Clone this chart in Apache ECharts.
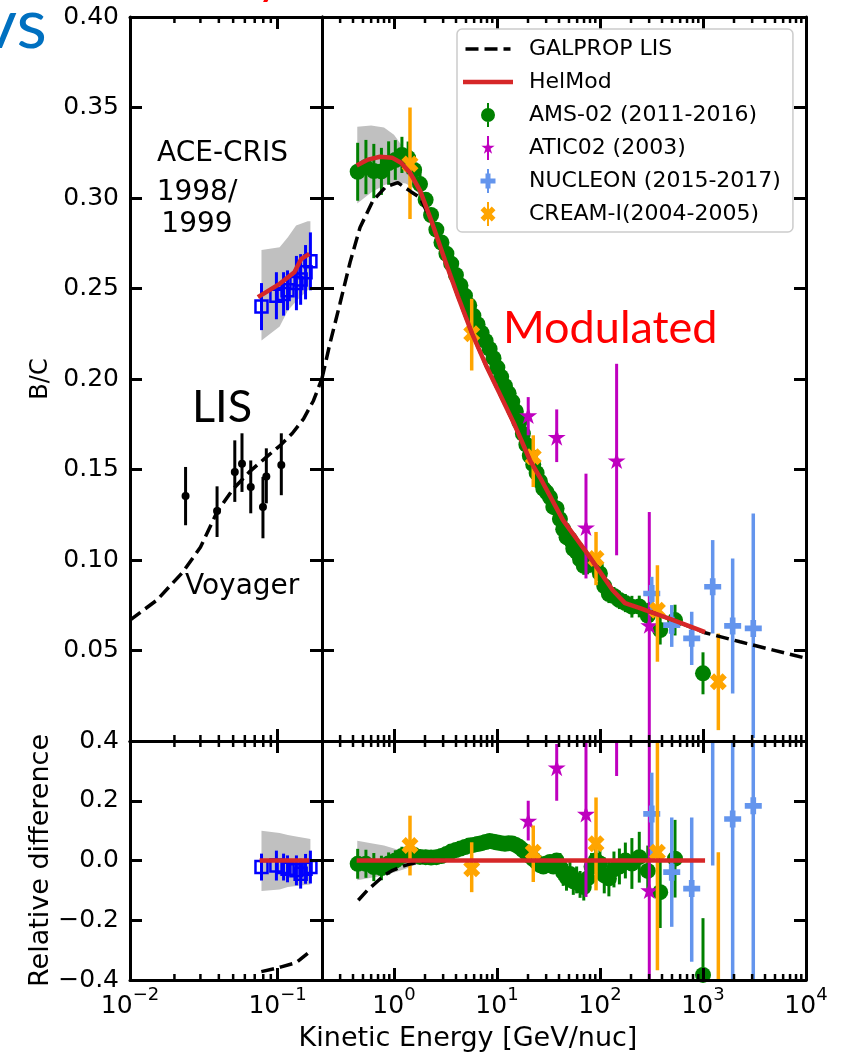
<!DOCTYPE html>
<html>
<head>
<meta charset="utf-8">
<script src="https://cdn.jsdelivr.net/npm/echarts@6.0.0/dist/echarts.min.js"></script>
<style>
  html, body { margin: 0; padding: 0; background: #ffffff; }
  #chart { width: 842px; height: 1057px; }
</style>
</head>
<body>
<div id="chart"></div>
<script>
// ---------------- B/C data (kinetic energy in GeV/nuc) ----------------

// Voyager (LIS, left panel)
const voyagerE  = [0.0238, 0.0389, 0.0513, 0.0574, 0.0658, 0.0796, 0.0839, 0.106];
const voyagerBC = [0.1354, 0.1271, 0.1486, 0.1532, 0.1403, 0.1293, 0.1462, 0.1525];
const voyagerLo = [0.1192, 0.1127, 0.1321, 0.1376, 0.1258, 0.1120, 0.1313, 0.1358];
const voyagerHi = [0.1514, 0.1407, 0.1661, 0.1700, 0.1550, 0.1459, 0.1617, 0.1700];

// ACE-CRIS 1998/1999
const aceE      = [0.0778, 0.0982, 0.1098, 0.1168, 0.1342, 0.1433, 0.1547, 0.1669];
const aceBC     = [0.240, 0.246, 0.247, 0.249, 0.253, 0.255, 0.259, 0.265];
const aceErr    = [0.013, 0.013, 0.012, 0.011, 0.015, 0.014, 0.015, 0.016];
const aceRel    = [-0.022, -0.017, -0.022, -0.028, -0.033, -0.044, -0.028, -0.022];
const aceRelErr = [0.045, 0.050, 0.045, 0.045, 0.050, 0.050, 0.050, 0.055];

// HelMod uncertainty band, ACE-CRIS period
const aceBandE     = [0.0778, 0.1033, 0.1174, 0.1335, 0.1600, 0.1669];
const aceBandHi    = [0.2713, 0.2728, 0.2783, 0.2848, 0.2871, 0.2871];
const aceBandLo    = [0.2213, 0.2290, 0.2379, 0.2430, 0.2490, 0.2500];
const aceBandRelHi = [0.100, 0.092, 0.085, 0.080, 0.074, 0.072];
const aceBandRelLo = [-0.102, -0.097, -0.089, -0.085, -0.081, -0.080];

// GALPROP LIS
const lisLeftE   = [0.01, 0.0152, 0.0228, 0.030, 0.0389, 0.0497, 0.065, 0.0843, 0.105, 0.126, 0.15, 0.175, 0.2];
const lisLeftBC  = [0.0668, 0.0778, 0.0933, 0.107, 0.1265, 0.139, 0.149, 0.157, 0.1635, 0.170, 0.178, 0.188, 0.2003];
const lisRightE  = [0.2, 0.239, 0.299, 0.374, 0.468, 0.625, 0.836, 1.09, 1.46, 1.79, 2.34, 3.13, 4.18, 5.72, 7.83,
                    10.7, 14.9, 20.9, 26.1, 43.7, 74.8, 133, 175, 244, 515, 1047, 2290, 4818, 10000];
const lisRightBC = [0.2003, 0.2197, 0.2417, 0.2643, 0.2837, 0.2986, 0.3063, 0.3085, 0.3035, 0.3002, 0.2864, 0.2655,
                    0.2456, 0.2252, 0.2075, 0.1915, 0.1744, 0.1551, 0.1457, 0.1220, 0.1038, 0.0833, 0.0762, 0.0734,
                    0.0668, 0.0598, 0.0548, 0.0502, 0.0457];
const lisRelLeftE  = [0.0776, 0.0977, 0.106, 0.1335, 0.141, 0.160];
const lisRelLeft   = [-0.372, -0.361, -0.356, -0.342, -0.333, -0.311];
const lisRelRightE = [0.45, 0.55, 0.65, 0.8, 0.97, 1.2, 1.39, 1.7, 2.0, 2.5, 3.13];
const lisRelRight  = [-0.133, -0.100, -0.078, -0.050, -0.033, -0.020, -0.013, -0.006, -0.002, 0, 0];

// HelMod modulated spectrum
const helLeftE   = [0.0736, 0.1033, 0.130, 0.1448, 0.164];
const helLeftBC  = [0.2452, 0.2526, 0.2590, 0.2664, 0.2691];
const helRightE  = [0.434, 0.559, 0.731, 0.956, 1.17, 1.43, 1.79, 2.34, 3.13, 4.18, 5.72, 7.83, 10.7, 14.9,
                    20.9, 26.1, 43.7, 74.8, 133, 175, 244, 515, 1047];
const helRightBC = [0.3179, 0.3212, 0.3228, 0.3223, 0.3195, 0.3140, 0.3041, 0.2864, 0.2655, 0.2456, 0.2252,
                    0.2075, 0.1915, 0.1744, 0.1551, 0.1457, 0.1220, 0.1038, 0.0833, 0.0762, 0.0734, 0.0668, 0.0602];
const helRelLeftE  = [0.0756, 0.164];
const helRelRightE = [0.434, 1047];
const helRel       = [0, 0];

// HelMod uncertainty band, AMS-02 period
const bandE     = [0.44, 0.6, 0.8, 1.0, 1.3, 1.6, 2.0];
const bandHi    = [0.3394, 0.340, 0.339, 0.335, 0.326, 0.314, 0.299];
const bandLo    = [0.297, 0.303, 0.307, 0.309, 0.308, 0.305, 0.297];
const bandRelHi = [0.066, 0.058, 0.050, 0.040, 0.028, 0.015, 0.004];
const bandRelLo = [-0.066, -0.058, -0.050, -0.040, -0.028, -0.015, -0.004];

// AMS-02 (2011-2016)
const amsE = [0.444, 0.534, 0.637, 0.755, 0.887, 1.03, 1.194, 1.371, 1.569, 1.789, 2.029, 2.291, 2.579, 2.889,
              3.229, 3.595, 3.992, 4.42, 4.888, 5.38, 5.90, 6.47, 7.09, 7.76, 8.48, 9.25, 10.08, 10.98, 11.95,
              12.97, 14.07, 15.24, 16.49, 17.84, 19.28, 20.83, 22.48, 24.25, 26.15, 28.18, 30.35, 32.70, 35.22,
              37.92, 40.82, 43.95, 47.32, 51.07, 55.07, 59.32, 64.07, 69.57, 75.82, 82.8, 90.8, 99.8, 110, 122,
              136.6, 154.3, 176.3, 204, 240.6, 291, 384, 535, 1000];
const amsBC = [0.3145, 0.3171, 0.3149, 0.3147, 0.3193, 0.3210, 0.3238, 0.3222, 0.3155, 0.3077, 0.2990, 0.2906,
               0.2825, 0.2754, 0.2692, 0.2637, 0.2575, 0.2517, 0.2460, 0.2407, 0.2350, 0.2303, 0.2255, 0.2210,
               0.2166, 0.2115, 0.2063, 0.2012, 0.1962, 0.1921, 0.1875, 0.1821, 0.1762, 0.1698, 0.1637, 0.1576,
               0.1528, 0.1481, 0.1434, 0.1394, 0.1374, 0.1346, 0.1293, 0.1285, 0.1226, 0.1170, 0.1126, 0.1115,
               0.1062, 0.1044, 0.1003, 0.0968, 0.0971, 0.0982, 0.0969, 0.0926, 0.0856, 0.0812, 0.0801, 0.0779,
               0.0762, 0.0742, 0.0743, 0.0693, 0.0613, 0.0668, 0.0374];
const amsErr = [0.016, 0.015, 0.015, 0.013, 0.012, 0.011, 0.010, 0.009, 0.008, 0.007,
                0.003, 0.003, 0.003, 0.003, 0.003, 0.003, 0.003, 0.003, 0.003, 0.003,
                0.003, 0.003, 0.003, 0.003, 0.003, 0.003, 0.003, 0.003, 0.003, 0.003,
                0.003, 0.003, 0.003, 0.003, 0.003, 0.003, 0.003, 0.003, 0.003, 0.003,
                0.003, 0.003, 0.003, 0.003, 0.005, 0.005, 0.005, 0.005, 0.005, 0.005,
                0.005, 0.005, 0.005, 0.005, 0.005, 0.005, 0.005, 0.005, 0.005, 0.005,
                0.005, 0.006, 0.006, 0.007, 0.008, 0.0085, 0.0116];
const amsRel = [-0.011, -0.011, -0.022, -0.025, -0.010, 0.000, 0.015, 0.022, 0.018, 0.012,
                0.011, 0.010, 0.011, 0.015, 0.022, 0.030, 0.035, 0.040, 0.045, 0.050,
                0.052, 0.055, 0.058, 0.062, 0.065, 0.063, 0.060, 0.058, 0.056, 0.058,
                0.057, 0.052, 0.045, 0.035, 0.025, 0.015, 0.005, -0.005, -0.015, -0.020,
                -0.010, -0.005, -0.020, 0.000, -0.020, -0.040, -0.056, -0.045, -0.070, -0.065,
                -0.080, -0.089, -0.060, -0.020, 0.000, -0.010, -0.050, -0.060, -0.030, -0.020,
                0.000, -0.010, 0.011, -0.035, -0.106, 0.006, -0.383];
const amsRelErr = [0.050, 0.047, 0.047, 0.041, 0.037, 0.034, 0.031, 0.028, 0.025, 0.022,
                   0.018, 0.018, 0.018, 0.018, 0.018, 0.018, 0.018, 0.018, 0.018, 0.018,
                   0.018, 0.018, 0.018, 0.018, 0.018, 0.018, 0.018, 0.018, 0.018, 0.018,
                   0.020, 0.020, 0.020, 0.020, 0.020, 0.020, 0.020, 0.020, 0.020, 0.020,
                   0.020, 0.020, 0.020, 0.020, 0.045, 0.045, 0.045, 0.045, 0.045, 0.045,
                   0.045, 0.045, 0.045, 0.045, 0.045, 0.045, 0.060, 0.060, 0.060, 0.060,
                   0.060, 0.085, 0.085, 0.085, 0.120, 0.130, 0.190];

// ATIC02 (2003)
const aticE     = [20.1, 38.0, 73.1, 145, 301];
const aticBC    = [0.1799, 0.1679, 0.1180, 0.1550, 0.0640];
const aticLo    = [0.1689, 0.1541, 0.0898, 0.1026, -0.010];
const aticHi    = [0.1900, 0.1832, 0.1477, 0.2084, 0.1265];
const aticRel   = [0.133, 0.311, 0.156, 0.890, -0.100];
const aticRelLo = [0.067, 0.200, -0.122, 0.283, -0.600];
const aticRelHi = [0.200, 0.390, 0.600, 1.500, 0.600];

// NUCLEON (2015-2017)
const nucE     = [318, 497, 777, 1242, 1941, 3077];
const nucBC    = [0.0815, 0.0640, 0.0567, 0.0852, 0.0636, 0.0622];
const nucLo    = [0.0723, 0.0520, 0.0420, 0.0594, 0.0263, 0.0017];
const nucHi    = [0.0907, 0.0751, 0.0714, 0.1110, 0.1008, 0.1257];
const nucRel   = [0.156, -0.039, -0.094, 0.450, 0.139, 0.183];
const nucRelLo = [0.018, -0.222, -0.339, -0.017, -0.600, -0.600];
const nucRelHi = [0.294, 0.144, 0.144, 0.900, 0.900, 0.900];

// CREAM-I (2004-2005)
const creamE     = [1.43, 5.68, 22.5, 91.5, 361, 1409];
const creamBC    = [0.3188, 0.2250, 0.1570, 0.1008, 0.0723, 0.0327];
const creamLo    = [0.2884, 0.2047, 0.1403, 0.0861, 0.0438, 0.0060];
const creamHi    = [0.3500, 0.2443, 0.1689, 0.1155, 0.0971, 0.0594];
const creamRel   = [0.050, -0.028, 0.028, 0.056, 0.028, -0.450];
const creamRelLo = [-0.050, -0.106, -0.072, -0.100, -0.367, -1.000];
const creamRelHi = [0.150, 0.061, 0.117, 0.211, 0.450, 0.028];

// Axis ranges
const xLeftRange  = [0.01, 0.2];
const xRightRange = [0.2, 10000];

// ---------------- styling helpers ----------------
const FONT = 'DejaVu Sans';
const C_AMS = '#008000', C_ATIC = '#bf00bf', C_NUC = '#6495ed', C_CREAM = '#ffa500';
const C_HEL = '#d62728', C_ACE = '#0000ff', C_BAND = '#c0c0c0';
const MAJOR = 12, MINOR = 6;

const STAR  = 'path://M10 0L12.245 6.91L19.51 6.91L13.633 11.18L15.878 18.09L10 13.82L4.122 18.09L6.367 11.18L0.49 6.91L7.755 6.91Z';
const PLUS  = 'path://M4 0H8V4H12V8H8V12H4V8H0V4H4Z';
const XMARK = 'path://M3 0L6 3L9 0L12 3L9 6L12 9L9 12L6 9L3 12L0 9L3 6L0 3Z';

// legend handles, all 24 units tall: marker with its error bar, dashed / solid line segments
// (the two tiny squares in the line handles only fix the handle height)
const ICON_LIS   = 'path://M0 -10.25h0.01v0.01h-0.01Z M0 13.74h0.01v0.01h-0.01Z M0 0H13V3.5H0Z M19 0H32V3.5H19Z M38 0H45V3.5H38Z';
const ICON_HEL   = 'path://M0 -9.75h0.01v0.01h-0.01Z M0 14.24h0.01v0.01h-0.01Z M0 0H50V4.5H0Z';
const ICON_AMS   = 'path://M6 0H8V24H6Z M0 12A7 7 0 1 1 14 12A7 7 0 1 1 0 12Z';
const ICON_ATIC  = 'path://M6 0H8V24H6Z M7 5L8.572 9.837L13.657 9.837L9.543 12.826L11.116 17.663L7 14.674L2.884 17.663L4.457 12.826L0.343 9.837L5.428 9.837Z';
const ICON_NUC   = 'path://M6.5 0H8.5V24H6.5Z M5 4.5H10V9.5H15V14.5H10V19.5H5V14.5H0V9.5H5Z';
const ICON_CREAM = 'path://M6.5 0H8.5V24H6.5Z M3.75 4.5L7.5 8.25L11.25 4.5L15 8.25L11.25 12L15 15.75L11.25 19.5L7.5 15.75L3.75 19.5L0 15.75L3.75 12L0 8.25Z';

const zip = (...cols) => cols[0].map((_, i) => cols.map(c => c[i]));
const minus = (a, e) => a.map((v, i) => v - e[i]);
const plus  = (a, e) => a.map((v, i) => v + e[i]);

function lineSeries(gi, name, xs, ys, color, width, dash, z) {
  const s = {
    type: 'line', xAxisIndex: 2 * gi, yAxisIndex: 2 * gi, data: zip(xs, ys),
    symbol: 'none', showSymbol: false, smooth: false, clip: true, silent: true, z: z,
    lineStyle: { color: color, width: width, type: dash || 'solid', cap: 'butt' },
    itemStyle: { color: color }
  };
  if (name) s.name = name;
  return s;
}

function errSeries(gi, xs, lo, hi, color, width, z) {
  return {
    type: 'custom', xAxisIndex: 2 * gi, yAxisIndex: 2 * gi, clip: true, silent: true, z: z,
    data: zip(xs, lo, hi), encode: { x: 0, y: [1, 2] },
    renderItem: function (params, api) {
      const a = api.coord([api.value(0), api.value(1)]);
      const b = api.coord([api.value(0), api.value(2)]);
      return { type: 'line', shape: { x1: a[0], y1: a[1], x2: b[0], y2: b[1] },
               style: { stroke: color, lineWidth: width } };
    }
  };
}

function pointSeries(gi, name, xs, ys, symbol, size, itemStyle, z) {
  const s = {
    type: 'scatter', xAxisIndex: 2 * gi, yAxisIndex: 2 * gi, data: zip(xs, ys),
    symbol: symbol, symbolSize: size, symbolKeepAspect: true, clip: true, silent: true,
    itemStyle: Object.assign({ opacity: 1 }, itemStyle), z: z
  };
  if (name) s.name = name;
  return s;
}

function bandSeries(gi, xs, lo, hi) {
  return {
    type: 'custom', xAxisIndex: 2 * gi, yAxisIndex: 2 * gi, clip: true, silent: true, z: 1,
    data: [[xs[0], lo[0]]], encode: { x: 0, y: 1 },
    renderItem: function (params, api) {
      const pts = [];
      for (let i = 0; i < xs.length; i++) pts.push(api.coord([xs[i], hi[i]]));
      for (let i = xs.length - 1; i >= 0; i--) pts.push(api.coord([xs[i], lo[i]]));
      return { type: 'polygon', shape: { points: pts }, style: { fill: C_BAND } };
    }
  };
}

// minor ticks of a log axis: 2..9 x 10^k strictly inside the range
function minorValues(range) {
  const out = [];
  for (let e = Math.floor(Math.log10(range[0])); e <= Math.ceil(Math.log10(range[1])); e++) {
    for (let m = 2; m <= 9; m++) {
      const v = m * Math.pow(10, e);
      if (v > range[0] * 1.0001 && v < range[1] * 0.9999) out.push(v);
    }
  }
  return out;
}

function minorTickSeries(gi, range, yBase) {
  return {
    type: 'custom', xAxisIndex: 2 * gi, yAxisIndex: 2 * gi, clip: false, silent: true, z: 20,
    data: minorValues(range).map(v => [v, yBase]), encode: { x: 0, y: 1 },
    renderItem: function (params, api) {
      const cs = params.coordSys;
      const x = api.coord([api.value(0), api.value(1)])[0];
      const yb = cs.y + cs.height, yt = cs.y;
      const st = { stroke: '#000', lineWidth: 2.5 };
      return { type: 'group', children: [
        { type: 'line', shape: { x1: x, y1: yb, x2: x, y2: yb - MINOR }, style: st },
        { type: 'line', shape: { x1: x, y1: yt, x2: x, y2: yt + MINOR }, style: st }
      ] };
    }
  };
}

const axisLineStyle = { show: true, onZero: false, lineStyle: { color: '#000', width: 3 } };
const axisTickStyle = { show: true, inside: true, length: MAJOR, lineStyle: { color: '#000', width: 3 } };

function powerLabel(v) {
  const e = Math.log10(v), r = Math.round(e);
  if (Math.abs(e - r) > 1e-6) return '';
  return '{b|10}{s|' + (r < 0 ? '\u2212' : '') + Math.abs(r) + '}';
}

function xAxisDef(gi, pos, range, showLabels) {
  return {
    type: 'log', logBase: 10, gridIndex: gi, position: pos, min: range[0], max: range[1], z: 10,
    axisLine: axisLineStyle, axisTick: axisTickStyle, splitLine: { show: false },
    axisLabel: showLabels ? {
      show: true, interval: 0, margin: 6, formatter: powerLabel,
      rich: {
        b: { fontFamily: FONT, fontSize: 25, lineHeight: 33, verticalAlign: 'bottom', color: '#000' },
        s: { fontFamily: FONT, fontSize: 18, lineHeight: 18, verticalAlign: 'top', color: '#000' }
      }
    } : { show: false }
  };
}

function yAxisDef(gi, pos, min, max, step, fmt, name, nameSize, nameGap) {
  const ax = {
    type: 'value', gridIndex: gi, position: pos, min: min, max: max, interval: step, z: 10,
    axisLine: axisLineStyle, axisTick: axisTickStyle, splitLine: { show: false },
    axisLabel: fmt ? { show: true, margin: 11, formatter: fmt, fontFamily: FONT, fontSize: 25, color: '#000' }
                   : { show: false }
  };
  if (name) {
    ax.name = name; ax.nameLocation = 'middle'; ax.nameGap = nameGap;
    ax.nameTextStyle = { fontFamily: FONT, fontSize: nameSize, color: '#000' };
  }
  return ax;
}

const fmtTop = v => (Math.abs(v) < 1e-9 ? '' : v.toFixed(2));
const fmtRel = v => (Math.abs(v) < 1e-9 ? '0.0' : v.toFixed(1).replace('-', '\u2212'));

// grid indices: 0 top-left, 1 top-right, 2 bottom-left, 3 bottom-right
const grids = [
  { left: 130, top: 17,  width: 192, height: 724 },
  { left: 322, top: 17,  width: 484, height: 724 },
  { left: 130, top: 741, width: 192, height: 239 },
  { left: 322, top: 741, width: 484, height: 239 }
].map(g => Object.assign({ containLabel: false, outerBoundsMode: 'none' }, g));

const xAxes = [
  xAxisDef(0, 'bottom', xLeftRange, false),  xAxisDef(0, 'top', xLeftRange, false),
  xAxisDef(1, 'bottom', xRightRange, false), xAxisDef(1, 'top', xRightRange, false),
  xAxisDef(2, 'bottom', xLeftRange, true),   xAxisDef(2, 'top', xLeftRange, false),
  xAxisDef(3, 'bottom', xRightRange, true),  xAxisDef(3, 'top', xRightRange, false)
];
const yAxes = [
  yAxisDef(0, 'left', 0, 0.4, 0.05, fmtTop, 'B/C', 24, 77), yAxisDef(0, 'right', 0, 0.4, 0.05),
  yAxisDef(1, 'left', 0, 0.4, 0.05),                         yAxisDef(1, 'right', 0, 0.4, 0.05),
  yAxisDef(2, 'left', -0.4, 0.4, 0.2, fmtRel, 'Relative difference', 27, 76), yAxisDef(2, 'right', -0.4, 0.4, 0.2),
  yAxisDef(3, 'left', -0.4, 0.4, 0.2),                       yAxisDef(3, 'right', -0.4, 0.4, 0.2)
];

const LIS = 'GALPROP LIS', HEL = 'HelMod';
const N_AMS = 'AMS-02 (2011-2016)', N_ATIC = 'ATIC02 (2003)', N_NUC = 'NUCLEON (2015-2017)', N_CREAM = 'CREAM-I(2004-2005)';
const DASH = [13, 6];

const aceStyle = { color: 'rgba(0,0,0,0)', borderColor: C_ACE, borderWidth: 2.5 };
const S_AMS = 16, S_ATIC = 18, S_NUC = 17, S_CREAM = 17;

const series = [
  // ---- top-right: modulated B/C ----
  bandSeries(1, bandE, bandLo, bandHi),
  errSeries(1, amsE, minus(amsBC, amsErr), plus(amsBC, amsErr), C_AMS, 3, 3),
  pointSeries(1, N_AMS, amsE, amsBC, 'circle', S_AMS, { color: C_AMS }, 3),
  errSeries(1, aticE, aticLo, aticHi, C_ATIC, 3, 4),
  pointSeries(1, N_ATIC, aticE, aticBC, STAR, S_ATIC, { color: C_ATIC }, 4),
  errSeries(1, nucE, nucLo, nucHi, C_NUC, 3.5, 5),
  pointSeries(1, N_NUC, nucE, nucBC, PLUS, S_NUC, { color: C_NUC }, 5),
  errSeries(1, creamE, creamLo, creamHi, C_CREAM, 3.5, 6),
  pointSeries(1, N_CREAM, creamE, creamBC, XMARK, S_CREAM, { color: C_CREAM }, 6),
  lineSeries(1, LIS, lisRightE, lisRightBC, '#000', 3.5, DASH, 7),
  lineSeries(1, HEL, helRightE, helRightBC, C_HEL, 4.5, 'solid', 8),

  // ---- top-left: LIS and ACE-CRIS ----
  bandSeries(0, aceBandE, aceBandLo, aceBandHi),
  errSeries(0, voyagerE, voyagerLo, voyagerHi, '#000', 3, 3),
  pointSeries(0, null, voyagerE, voyagerBC, 'circle', 8, { color: '#000' }, 3),
  errSeries(0, aceE, minus(aceBC, aceErr), plus(aceBC, aceErr), C_ACE, 3, 4),
  pointSeries(0, null, aceE, aceBC, 'rect', 12, aceStyle, 4),
  lineSeries(0, LIS, lisLeftE, lisLeftBC, '#000', 3.5, DASH, 7),
  lineSeries(0, HEL, helLeftE, helLeftBC, C_HEL, 4.5, 'solid', 8),

  // ---- bottom-left: relative difference ----
  bandSeries(2, aceBandE, aceBandRelLo, aceBandRelHi),
  errSeries(2, aceE, minus(aceRel, aceRelErr), plus(aceRel, aceRelErr), C_ACE, 3, 4),
  pointSeries(2, null, aceE, aceRel, 'rect', 12, aceStyle, 4),
  lineSeries(2, null, lisRelLeftE, lisRelLeft, '#000', 3.5, DASH, 7),
  lineSeries(2, null, helRelLeftE, helRel, C_HEL, 4.5, 'solid', 8),

  // ---- bottom-right: relative difference ----
  bandSeries(3, bandE, bandRelLo, bandRelHi),
  errSeries(3, amsE, minus(amsRel, amsRelErr), plus(amsRel, amsRelErr), C_AMS, 3, 3),
  pointSeries(3, null, amsE, amsRel, 'circle', S_AMS, { color: C_AMS }, 3),
  errSeries(3, aticE, aticRelLo, aticRelHi, C_ATIC, 3, 4),
  pointSeries(3, null, aticE, aticRel, STAR, S_ATIC, { color: C_ATIC }, 4),
  errSeries(3, nucE, nucRelLo, nucRelHi, C_NUC, 3.5, 5),
  pointSeries(3, null, nucE, nucRel, PLUS, S_NUC, { color: C_NUC }, 5),
  errSeries(3, creamE, creamRelLo, creamRelHi, C_CREAM, 3.5, 6),
  pointSeries(3, null, creamE, creamRel, XMARK, S_CREAM, { color: C_CREAM }, 6),
  lineSeries(3, null, lisRelRightE, lisRelRight, '#000', 3.5, DASH, 7),
  lineSeries(3, null, helRelRightE, helRel, C_HEL, 4.5, 'solid', 8),

  // minor ticks on the log axes
  minorTickSeries(0, xLeftRange, 0), minorTickSeries(1, xRightRange, 0),
  minorTickSeries(2, xLeftRange, -0.4), minorTickSeries(3, xRightRange, -0.4)
];

function label(text, x, y, size, opts) {
  return Object.assign({
    type: 'text', x: x, y: y, z: 100, silent: true,
    style: Object.assign({ text: text, fontFamily: FONT, fontSize: size, fill: '#000',
                           align: 'left', verticalAlign: 'middle' }, (opts && opts.style) || {})
  }, (opts && opts.el) || {});
}

const option = {
  animation: false,
  backgroundColor: '#ffffff',
  grid: grids,
  xAxis: xAxes,
  yAxis: yAxes,
  legend: {
    orient: 'vertical', left: 457, top: 29, z: 30,
    itemWidth: 50, itemHeight: 24, itemGap: 9,
    padding: [8, 12, 6, 6],
    backgroundColor: 'rgba(255,255,255,0.8)', borderColor: '#cccccc', borderWidth: 1.5, borderRadius: 5,
    selectedMode: false,
    textStyle: { fontFamily: FONT, fontSize: 22, color: '#000', padding: [0, 0, 0, 11] },
    data: [
      { name: LIS, icon: ICON_LIS }, { name: HEL, icon: ICON_HEL },
      { name: N_AMS, icon: ICON_AMS }, { name: N_ATIC, icon: ICON_ATIC },
      { name: N_NUC, icon: ICON_NUC }, { name: N_CREAM, icon: ICON_CREAM }
    ]
  },
  graphic: [
    label('ACE-CRIS', 157, 153.7, 28),
    label('1998/\n1999', 197, 209.2, 28, { style: { align: 'center', lineHeight: 32 } }),
    label('LIS', 192, 407.5, 45, { style: { fontFamily: 'Lato' } }),
    label('Voyager', 185, 586.7, 28),
    label('Modulated', 503, 328.5, 45, { style: { fontFamily: 'Lato', fill: '#ff0000' } }),
    label('Kinetic Energy [GeV/nuc]', 468, 1039, 27, { style: { align: 'center' } }),
    label('vs', -19, 25.4, 70, { style: { fontFamily: 'Lato', fill: '#0070c0' } }),
    label('y', 257, -21, 48, { style: { fontFamily: 'Lato', fill: '#ff0000' } })
  ],
  series: series
};

const chart = echarts.init(document.getElementById('chart'), null, { renderer: 'canvas', width: 842, height: 1057 });
chart.setOption(option);
</script>
</body>
</html>
